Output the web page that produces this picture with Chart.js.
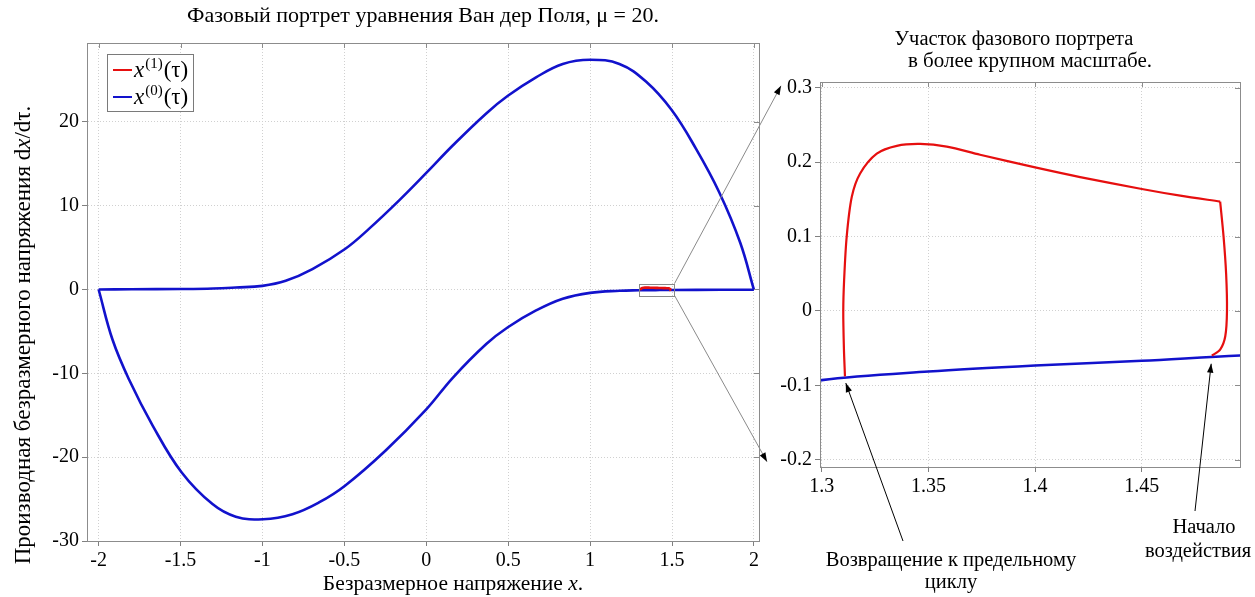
<!DOCTYPE html>
<html>
<head>
<meta charset="utf-8">
<script src="https://cdn.jsdelivr.net/npm/chart.js@4/dist/chart.umd.min.js"></script>
<style>
  html, body { margin: 0; padding: 0; background: #fff; }
  #wrap { position: relative; width: 1255px; height: 597px; }
  canvas { position: absolute; top: 0; }
</style>
</head>
<body>
<div id="wrap">
  <canvas id="left" width="775" height="597" style="left:0"></canvas>
  <canvas id="right" width="480" height="597" style="left:775px"></canvas>
  <canvas id="overlay" width="1255" height="597" style="left:0;pointer-events:none"></canvas>
</div>
<script>
// x^(0)(tau) - limit cycle, upper branch (x from -2 up to 2)
const upperX = [-2.0, -1.8, -1.5, -1.3, -1.163, -1.0, -0.858, -0.695, -0.496, -0.35, -0.167, 0.0,
                0.163, 0.366, 0.498, 0.67, 0.833, 1.0, 1.179, 1.341, 1.498, 1.646, 1.788, 1.916, 2.0];
const upperY = [0.0, 0.03, 0.06, 0.12, 0.24, 0.43, 1.03, 2.43, 4.83, 7.23, 10.6, 13.9,
                17.2, 21.0, 23.1, 25.3, 26.9, 27.4, 26.9, 24.8, 21.4, 16.8, 11.6, 5.6, -0.03];
// lower branch (jump from x=1 back to -2 and slow part near zero)
const lowerX = [-2.0, -1.915, -1.813, -1.671, -1.494, -1.305, -1.163, -0.996, -0.817, -0.655, -0.496, -0.248, 0.0,
                0.163, 0.366, 0.498, 0.67, 0.833, 1.0, 1.18, 1.3, 1.35, 1.4, 1.45, 1.5, 1.8, 2.0];
const lowerY = [0.0, -6.0, -10.8, -16.2, -21.8, -25.6, -27.1, -27.4, -26.8, -25.4, -23.4, -19.2, -14.3,
                -10.5, -6.5, -4.5, -2.5, -1.1, -0.4, -0.15, -0.093, -0.0815, -0.0734, -0.067, -0.0595, -0.04, -0.03];

// x^(1)(tau) - perturbed trajectory, right side (start of action) and top/left part (return)
const redRightX = [1.4828, 1.4867, 1.4891, 1.4899, 1.4895, 1.4883, 1.4867];
const redRightY = [-0.060, -0.052, -0.034, 0.000, 0.050, 0.100, 0.147];
const redTopX = [1.4867, 1.4680, 1.4500, 1.4211, 1.4000, 1.3742, 1.3586, 1.3461, 1.3352, 1.3258,
                 1.3180, 1.3141, 1.3117, 1.3105, 1.3101, 1.3104, 1.3109];
const redTopY = [0.147, 0.155, 0.164, 0.180, 0.193, 0.210, 0.221, 0.2245, 0.222, 0.2115,
                 0.1848, 0.1534, 0.0997, 0.0415, 0.000, -0.050, -0.088];

const leftXTicks = [-2, -1.5, -1, -0.5, 0, 0.5, 1, 1.5, 2];
const leftYTicks = [-30, -20, -10, 0, 10, 20];
const rightXTicks = [1.3, 1.35, 1.4, 1.45];
const rightYTicks = [-0.2, -0.1, 0, 0.1, 0.2, 0.3];

const BLUE = '#1212cc';
const RED = '#e60f0f';
const FONT = "'Liberation Serif', 'Times New Roman', serif";

function pts(xs, ys) {
  return xs.map((x, i) => ({ x: x, y: ys[i] }));
}

// smooth: true -> catmull-rom tension (big view), false -> monotone (zoomed view)
function makeDatasets(blueW, redW, smooth) {
  const blueCurve = smooth ? { tension: 0.4 } : { cubicInterpolationMode: 'monotone' };
  return [
    { label: 'x1a', data: pts(redRightX, redRightY), borderColor: RED, borderWidth: redW, tension: 0.3 },
    { label: 'x1b', data: pts(redTopX, redTopY), borderColor: RED, borderWidth: redW, tension: 0.3 },
    Object.assign({ label: 'x0up', data: pts(upperX, upperY), borderColor: BLUE, borderWidth: blueW }, blueCurve),
    Object.assign({ label: 'x0low', data: pts(lowerX, lowerY), borderColor: BLUE, borderWidth: blueW }, blueCurve)
  ].map(d => Object.assign({ showLine: true, pointRadius: 0, fill: false }, d));
}

function axis(min, max, ticks, size, isX, fitSize) {
  return {
    type: 'linear',
    min: min,
    max: max,
    afterBuildTicks: s => { s.ticks = ticks.map(v => ({ value: v })); },
    afterFit: s => { if (isX) s.height = fitSize; else s.width = fitSize; },
    ticks: {
      color: '#000',
      font: { family: FONT, size: size },
      padding: 3,
      maxRotation: 0,
      autoSkip: false,
      callback: v => String(v)
    },
    grid: { color: '#d0d0d0', lineWidth: 1, tickLength: 5, tickColor: '#808080' },
    border: { color: '#8c8c8c', width: 1, dash: [1, 2] }
  };
}

function richText(ctx, parts, x, y) {
  let w = 0;
  parts.forEach(p => { ctx.font = p[1]; w += ctx.measureText(p[0]).width; });
  let cx = x - w / 2;
  ctx.textAlign = 'left';
  parts.forEach(p => {
    ctx.font = p[1];
    ctx.fillText(p[0], cx, y + (p[2] || 0));
    cx += ctx.measureText(p[0]).width;
  });
}

// box around the plot + inner ticks on top / right, like Matlab
function drawBox(chart, xt, yt) {
  const ctx = chart.ctx, a = chart.chartArea;
  const sx = chart.scales.x, sy = chart.scales.y;
  ctx.save();
  ctx.strokeStyle = '#8c8c8c';
  ctx.lineWidth = 1;
  ctx.strokeRect(Math.round(a.left) + 0.5, Math.round(a.top) + 0.5, Math.round(a.right - a.left), Math.round(a.bottom - a.top));
  ctx.beginPath();
  xt.forEach(v => {
    const p = Math.round(sx.getPixelForValue(v)) + 0.5;
    ctx.moveTo(p, a.top); ctx.lineTo(p, a.top + 5);
  });
  yt.forEach(v => {
    const p = Math.round(sy.getPixelForValue(v)) + 0.5;
    ctx.moveTo(a.right, p); ctx.lineTo(a.right - 5, p);
  });
  ctx.stroke();
  ctx.restore();
}

const leftDecor = {
  id: 'leftDecor',
  afterDraw(chart) {
    const ctx = chart.ctx, a = chart.chartArea;
    drawBox(chart, leftXTicks, leftYTicks);
    ctx.save();
    ctx.fillStyle = '#000';
    ctx.textBaseline = 'middle';
    ctx.textAlign = 'center';
    ctx.font = '22px ' + FONT;
    ctx.fillText('Фазовый портрет уравнения Ван дер Поля, μ = 20.', (a.left + a.right) / 2, 16);
    ctx.textBaseline = 'alphabetic';
    richText(ctx, [['Безразмерное напряжение ', '21.5px ' + FONT], ['x', 'italic 21.5px ' + FONT], ['.', '21.5px ' + FONT]],
      (a.left + a.right) / 2 + 30, 590);
    ctx.save();
    ctx.translate(30, 335);
    ctx.rotate(-Math.PI / 2);
    richText(ctx, [['Производная безразмерного напряжения d', '23px ' + FONT], ['x', 'italic 23px ' + FONT],
      ['/dτ.', '23px ' + FONT]], 0, 0);
    ctx.restore();

    // legend
    const lx = a.left + 20, ly = a.top + 11;
    ctx.fillStyle = '#fff';
    ctx.fillRect(lx, ly, 87, 58);
    ctx.strokeStyle = '#7a7a7a';
    ctx.lineWidth = 1;
    ctx.strokeRect(lx + 0.5, ly + 0.5, 86, 57);
    const rows = [[RED, '(1)', ly + 16], [BLUE, '(0)', ly + 43]];
    rows.forEach(r => {
      ctx.strokeStyle = r[0];
      ctx.lineWidth = 2;
      ctx.beginPath();
      ctx.moveTo(lx + 6, r[2]); ctx.lineTo(lx + 25, r[2]);
      ctx.stroke();
      ctx.fillStyle = '#000';
      ctx.font = 'italic 23px ' + FONT;
      const x0 = lx + 27;
      ctx.textAlign = 'left';
      ctx.fillText('x', x0, r[2] + 7);
      let w = ctx.measureText('x').width + 1;
      ctx.font = '15px ' + FONT;
      ctx.fillText(r[1], x0 + w, r[2] - 2);
      w += ctx.measureText(r[1]).width + 1;
      ctx.font = '23px ' + FONT;
      ctx.fillText('(τ)', x0 + w, r[2] + 7);
    });
    ctx.restore();
  }
};

const rightDecor = {
  id: 'rightDecor',
  afterDraw(chart) {
    const ctx = chart.ctx, a = chart.chartArea;
    drawBox(chart, rightXTicks, rightYTicks);
    ctx.save();
    ctx.fillStyle = '#000';
    ctx.textAlign = 'center';
    ctx.textBaseline = 'middle';
    const cx = (a.left + a.right) / 2;
    ctx.font = '20.5px ' + FONT;
    ctx.fillText('Участок фазового портрета', cx - 16, 40);
    ctx.font = '21px ' + FONT;
    ctx.fillText('в более крупном масштабе.', cx, 61);
    ctx.restore();
  }
};

function baseOptions(padding) {
  return {
    responsive: false,
    animation: false,
    layout: { padding: padding },
    plugins: { legend: { display: false }, title: { display: false }, tooltip: { enabled: false } }
  };
}

const leftOpts = baseOptions({ top: 43, right: 16, left: 0, bottom: 0 });
leftOpts.scales = {
  x: axis(-2.071, 2.031, leftXTicks, 20, true, 56),
  y: axis(-30, 29.4, leftYTicks, 20, false, 87)
};
const leftChart = new Chart(document.getElementById('left'), {
  type: 'scatter',
  data: { datasets: makeDatasets(2.6, 2.6, true) },
  options: leftOpts,
  plugins: [leftDecor]
});

const rightOpts = baseOptions({ top: 82, right: 15, left: 0, bottom: 0 });
rightOpts.scales = {
  x: axis(1.2992, 1.496, rightXTicks, 20, true, 130),
  y: axis(-0.2098, 0.3078, rightYTicks, 20, false, 45)
};
const rightChart = new Chart(document.getElementById('right'), {
  type: 'scatter',
  data: { datasets: makeDatasets(2.6, 2.2, false) },
  options: rightOpts,
  plugins: [rightDecor]
});

// overlay: zoom box, connector lines, annotation arrows and captions
function arrow(ctx, x1, y1, x2, y2, color) {
  ctx.strokeStyle = color;
  ctx.lineWidth = 1;
  ctx.beginPath();
  ctx.moveTo(x1, y1); ctx.lineTo(x2, y2);
  ctx.stroke();
  const ang = Math.atan2(y2 - y1, x2 - x1), L = 9, W = 3.2;
  ctx.fillStyle = '#000';
  ctx.beginPath();
  ctx.moveTo(x2, y2);
  ctx.lineTo(x2 - L * Math.cos(ang) + W * Math.sin(ang), y2 - L * Math.sin(ang) - W * Math.cos(ang));
  ctx.lineTo(x2 - L * Math.cos(ang) - W * Math.sin(ang), y2 - L * Math.sin(ang) + W * Math.cos(ang));
  ctx.closePath();
  ctx.fill();
}

function drawOverlay() {
  const ctx = document.getElementById('overlay').getContext('2d');
  const lx = leftChart.scales.x, ly = leftChart.scales.y;
  const rx = rightChart.scales.x, ry = rightChart.scales.y;
  const off = 775;
  const ra = rightChart.chartArea;

  const bx1 = lx.getPixelForValue(1.3), bx2 = lx.getPixelForValue(1.515);
  const by1 = ly.getPixelForValue(0.7), by2 = ly.getPixelForValue(-0.7);
  ctx.strokeStyle = '#888';
  ctx.lineWidth = 1;
  ctx.strokeRect(Math.round(bx1) + 0.5, Math.round(by1) + 0.5, Math.round(bx2 - bx1), Math.round(by2 - by1));

  arrow(ctx, bx2, by1, off + ra.left - 39, ry.getPixelForValue(0.3) - 2, '#8a8a8a');
  arrow(ctx, bx2, by2, off + ra.left - 53, ry.getPixelForValue(-0.2) + 2, '#8a8a8a');

  arrow(ctx, 903, 541, off + rx.getPixelForValue(1.3113), ry.getPixelForValue(-0.097), '#000');
  arrow(ctx, 1195, 511, off + rx.getPixelForValue(1.4825), ry.getPixelForValue(-0.071), '#000');

  ctx.fillStyle = '#000';
  ctx.textAlign = 'center';
  ctx.textBaseline = 'middle';
  ctx.font = '20.5px ' + FONT;
  ctx.fillText('Возвращение к предельному', 951, 561);
  ctx.fillText('циклу', 951, 583);
  ctx.fillText('Начало', 1204, 528);
  ctx.fillText('воздействия', 1198, 552);
}
drawOverlay();
</script>
</body>
</html>
